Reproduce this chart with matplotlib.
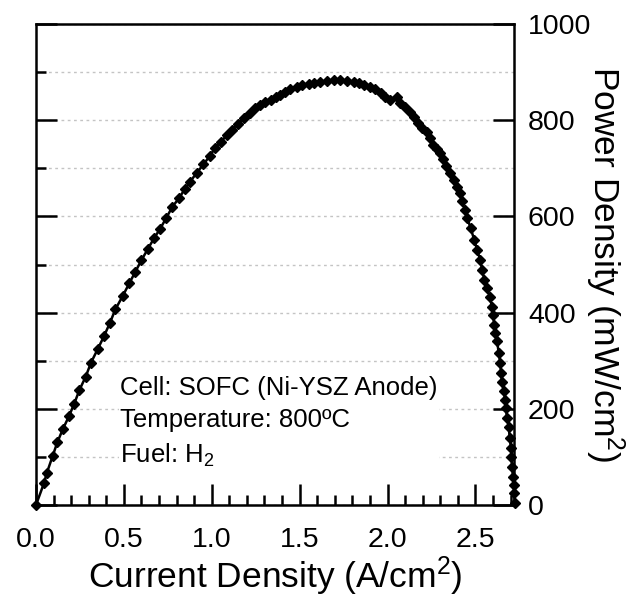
import matplotlib
matplotlib.use('Agg')
import matplotlib.pyplot as plt
from matplotlib.ticker import MultipleLocator

plt.rcParams['font.family'] = ['Liberation Sans', 'DejaVu Sans']
plt.rcParams['mathtext.default'] = 'regular'

# current density (A/cm2) and power density (mW/cm2)
current = [0.0, 0.045, 0.061, 0.095, 0.121, 0.152, 0.188, 0.218, 0.247, 0.283,
           0.313, 0.351, 0.387, 0.421, 0.452, 0.494, 0.531, 0.564, 0.600, 0.636,
           0.674, 0.706, 0.740, 0.776, 0.814, 0.847, 0.877, 0.915, 0.953, 0.989,
           1.019, 1.052, 1.086, 1.114, 1.152, 1.181, 1.219, 1.247, 1.276, 1.304,
           1.337, 1.367, 1.390, 1.418, 1.446, 1.484, 1.513, 1.551, 1.580, 1.617,
           1.655, 1.693, 1.731, 1.769, 1.807, 1.835, 1.864, 1.898, 1.931, 1.963,
           1.988, 2.012, 2.054, 2.073, 2.101, 2.130, 2.153, 2.172, 2.196, 2.225,
           2.244, 2.259, 2.282, 2.301, 2.316, 2.335, 2.354, 2.376, 2.396, 2.410,
           2.425, 2.440, 2.455, 2.473, 2.494, 2.510, 2.528, 2.538, 2.551, 2.567,
           2.581, 2.595, 2.600, 2.608, 2.614, 2.624, 2.633, 2.642, 2.646, 2.652,
           2.661, 2.671, 2.674, 2.680, 2.690, 2.695, 2.703, 2.705, 2.709, 2.714,
           2.718, 2.722, 2.726]
power = [0, 45, 66, 102, 130, 157, 185, 211, 239, 267,
         296, 324, 351, 379, 407, 435, 461, 484, 509, 532,
         556, 574, 596, 620, 638, 657, 672, 691, 708, 726,
         742, 755, 769, 780, 793, 804, 814, 825, 832, 838,
         843, 848, 852, 859, 864, 869, 873, 876, 878, 880,
         882, 883, 883, 882, 880, 877, 873, 868, 864, 857,
         849, 841, 848, 836, 827, 818, 807, 794, 783, 776,
         762, 748, 741, 731, 719, 705, 691, 676, 662, 648,
         631, 613, 596, 575, 551, 530, 509, 489, 468, 451,
         433, 412, 395, 374, 357, 340, 315, 295, 274, 256,
         236, 218, 201, 180, 163, 139, 118, 100, 80, 59,
         42, 24, 4]

note = 'Cell: SOFC (Ni-YSZ Anode)\nTemperature: 800ºC\nFuel: H$_2$'

fig = plt.figure(figsize=(6.37, 6.0), dpi=100)
ax = fig.add_axes([0.0565, 0.1583, 0.7505, 0.8017])

ax.plot(current, power, color='black', lw=1.8, marker='D', ms=5.5, clip_on=False, zorder=5)

ax.set_xlim(0, 2.72)
ax.set_ylim(0, 1000)
ax.xaxis.set_major_locator(MultipleLocator(0.5))
ax.xaxis.set_minor_locator(MultipleLocator(0.1))
ax.yaxis.set_major_locator(MultipleLocator(200))
ax.yaxis.set_minor_locator(MultipleLocator(100))
ax.xaxis.set_major_formatter(plt.FormatStrFormatter('%.1f'))

ax.grid(axis='y', which='both', color='#c4c4c4', lw=1, linestyle=(0, (2, 2.5)))
ax.set_axisbelow(True)

for s in ax.spines.values():
    s.set_linewidth(1.8)

ax.tick_params(axis='both', which='both', direction='in', width=1.8, labelsize=20.5)
ax.tick_params(axis='both', which='major', length=15)
ax.tick_params(axis='both', which='minor', length=7.5)
ax.tick_params(axis='x', top=False, pad=16)
ax.tick_params(axis='y', left=True, right=True, labelleft=False, labelright=True, pad=10)

ax.set_xlabel('Current Density (A/cm$^2$)', fontsize=25.5, labelpad=1)
ax.yaxis.set_label_position('right')
ax.set_ylabel('Power Density (mW/cm$^2$)', fontsize=25.5, rotation=270, va='bottom', labelpad=-6)

ax.text(0.176, 0.172, note, fontsize=18.5, linespacing=1.45, va='center', ha='left',
        transform=ax.transAxes, zorder=3,
        bbox=dict(facecolor='white', edgecolor='none', pad=1))

fig.savefig('out.png', dpi=100)
